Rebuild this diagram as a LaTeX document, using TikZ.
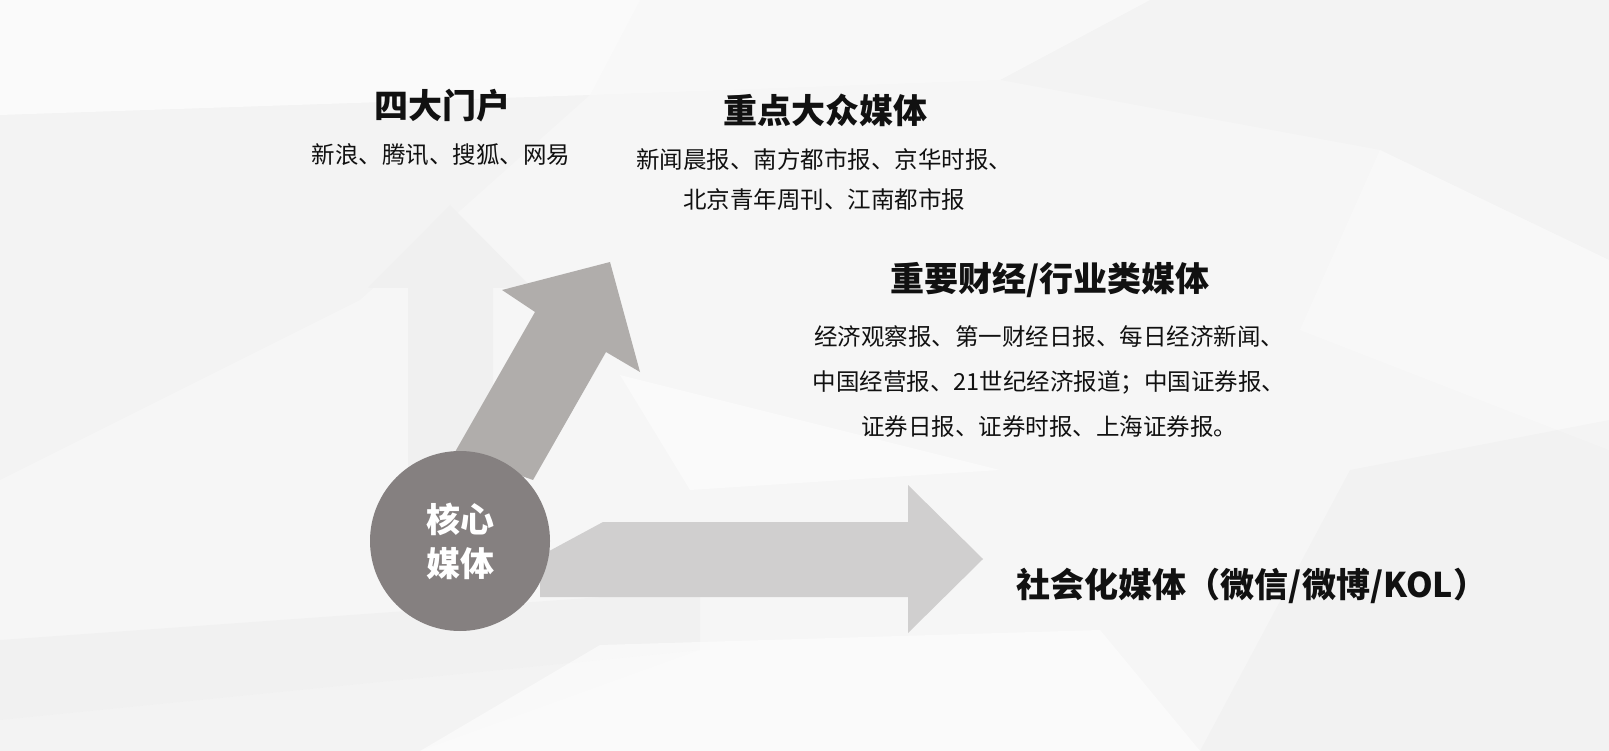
\documentclass[tikz,border=0pt]{standalone}
\usepackage{fontspec}
\setmainfont{Noto Sans CJK SC}
\usetikzlibrary{positioning}

\definecolor{bgbase}{HTML}{F6F6F6}
\definecolor{arrowup}{HTML}{F0F0F0}
\definecolor{arrowdiag}{HTML}{B0ADAB}
\definecolor{arrowright}{HTML}{D0CFCF}
\definecolor{coregray}{HTML}{858080}
\definecolor{inktext}{HTML}{111111}

\begin{document}
\begin{tikzpicture}[x=1pt,y=-1pt,
  title/.style={font=\bfseries\fontsize{34}{40}\selectfont,text=inktext,inner sep=0pt},
  list/.style={font=\fontsize{23.5}{40}\selectfont,text=inktext,inner sep=0pt,align=center},
  core/.style={circle,fill=coregray,minimum size=180pt,inner sep=0pt,text=white,
    font=\bfseries\fontsize{34}{44}\selectfont,align=center}]
 \useasboundingbox (0,0) rectangle (1609,751);
 % background facets
 \fill[bgbase](0,0) rectangle (1609,751);
 \fill[white,opacity=0.5](0,0)--(640,0)--(590,95)--(0,115)--cycle;
 \fill[white,opacity=0.3](640,0)--(1150,0)--(1000,80)--(590,95)--cycle;
 \fill[black,opacity=0.012](1150,0)--(1609,0)--(1609,260)--(1380,150)--(1000,80)--cycle;
 \fill[white,opacity=0.3](1380,150)--(1609,260)--(1609,450)--(1300,330)--cycle;
 \fill[black,opacity=0.015](1350,470)--(1609,420)--(1609,751)--(1200,751)--cycle;
 \fill[black,opacity=0.02](0,640)--(700,590)--(700,650)--(0,720)--cycle;
 \fill[black,opacity=0.01](0,720)--(700,650)--(420,751)--(0,751)--cycle;
 \fill[white,opacity=0.5](600,645)--(1100,630)--(1200,751)--(420,751)--cycle;
 \fill[white,opacity=0.45](620,375)--(1000,470)--(690,490)--cycle;
 \fill[black,opacity=0.01](0,115)--(590,95)--(360,300)--(0,480)--cycle;
 % arrows
 \draw[opacity=1,fill=arrowup,draw=none](408,520)--(408,288)--(368,288)--(450,205)--(532,288)--(493,288)--(493,520)--cycle;
 \draw[opacity=1,fill=arrowright,draw=none](540,556)--(603,522)--(908,522)--(908,485)--(983,559)--(908,633)--(908,597)--(540,597)--cycle;
 \draw[opacity=1,fill=arrowdiag,draw=none](455,452)--(535,312)--(502,290)--(610,262)--(640,372)--(606,352)--(533,480)--cycle;
 % core
 \node[core] (core) at (460,541) {核心\\媒体};
 % labels
 \node[title] (portal) at (442,106) {四大门户};
 \node[list] (portallist) at (441,155) {新浪、腾讯、搜狐、网易};
 \node[title] (mass) at (825,110) {重点大众媒体};
 \node[list] (masslist) at (824,180) {新闻晨报、南方都市报、京华时报、\\北京青年周刊、江南都市报};
 \node[title] (finance) at (1050,280) {重要财经/行业类媒体};
 \node[list,font=\fontsize{23.5}{45}\selectfont] (financelist) at (1049,382)
   {经济观察报、第一财经日报、每日经济新闻、\\中国经营报、21世纪经济报道；中国证券报、\\证券日报、证券时报、上海证券报。};
 \node[title] (social) at (1252,586) {社会化媒体（微信/微博/KOL）};
\end{tikzpicture}
\end{document}
